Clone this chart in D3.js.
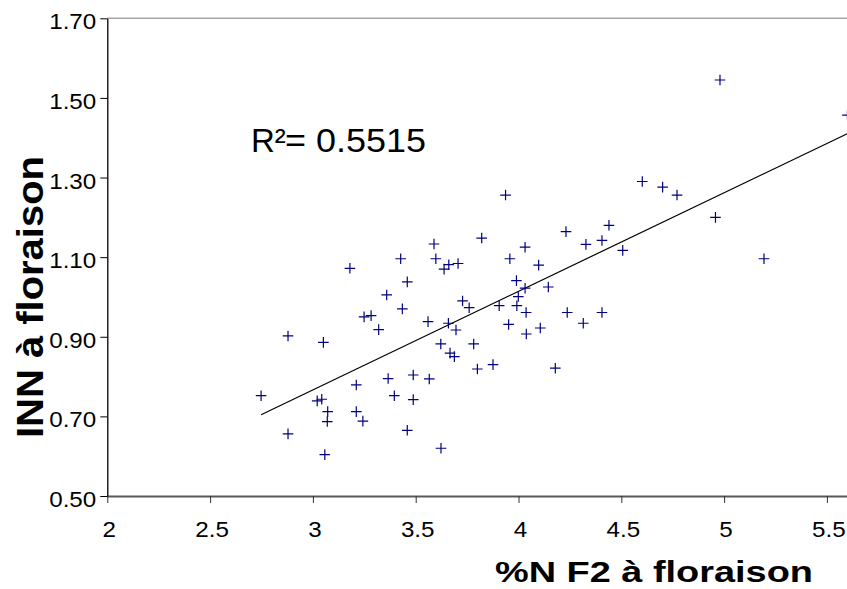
<!DOCTYPE html>
<html>
<head>
<meta charset="utf-8">
<script src="https://cdn.jsdelivr.net/npm/d3@7"></script>
<style>
  body { margin: 0; background: #fff; }
  svg { display: block; background: #fff; }
  text { font-family: Arial, "Liberation Sans", sans-serif; }
</style>
</head>
<body>
<svg id="chart" width="847" height="589"></svg>
<script>
// %N F2 at flowering (x) and INN at flowering (y), one entry per plot
const nF2 = [
  2.748, 2.879, 2.879, 3.021, 3.043, 3.051, 3.072, 3.070, 3.058, 3.180,
  3.211, 3.211, 3.243, 3.249, 3.283, 3.320, 3.359, 3.366, 3.396, 3.427,
  3.435, 3.459, 3.459, 3.488, 3.488, 3.560, 3.566, 3.589, 3.598, 3.622,
  3.623, 3.638, 3.661, 3.706, 3.659, 3.667, 3.688, 3.696, 3.728, 3.760,
  3.782, 3.800, 3.821, 3.876, 3.906, 3.937, 3.952, 3.958, 3.990, 3.992,
  3.999, 4.032, 4.032, 4.037, 4.038, 4.098, 4.106, 4.145, 4.179, 4.231,
  4.237, 4.315, 4.328, 4.406, 4.406, 4.440, 4.507, 4.602, 4.701, 4.771,
  4.958, 4.980, 5.194, 5.600
];
const inn = [
  0.752, 0.902, 0.656, 0.739, 0.743, 0.886, 0.712, 0.687, 0.604, 1.072,
  0.779, 0.712, 0.688, 0.950, 0.953, 0.918, 1.005, 0.795, 0.752, 1.096,
  0.970, 1.038, 0.665, 0.804, 0.742, 0.938, 0.794, 1.133, 1.096, 0.882,
  0.620, 1.070, 1.081, 1.084, 0.934, 0.859, 0.850, 0.917, 0.990, 0.973,
  0.882, 0.819, 1.148, 0.830, 0.978, 1.256, 0.931, 1.096, 1.041, 0.978,
  1.001, 1.125, 1.022, 0.961, 0.907, 1.080, 0.922, 1.025, 0.821, 1.164,
  0.961, 0.934, 1.132, 1.142, 0.961, 1.180, 1.117, 1.290, 1.276, 1.256,
  1.200, 1.545, 1.096, 1.457
];

const xTicks = [2, 2.5, 3, 3.5, 4, 4.5, 5, 5.5];
const yTicks = [0.5, 0.7, 0.9, 1.1, 1.3, 1.5, 1.7];

// linear trend as drawn on the chart
const trendSlope = 0.2477;
const trendIntercept = 0.0233;
const r2Value = "0.5515";

const svg = d3.select('#chart');

const x = d3.scaleLinear().domain([2, 6]).range([107.3, 929.7]);
const y = d3.scaleLinear().domain([0.5, 1.7]).range([496, 18.3]);

// top frame line of the plot area
svg.append('line')
  .attr('x1', x(2)).attr('x2', 847)
  .attr('y1', y(1.7)).attr('y2', y(1.7))
  .attr('stroke', '#a6a6a6')
  .attr('stroke-width', 1.5);

// x axis
const xAxis = svg.append('g')
  .attr('transform', `translate(0,${y(0.5)})`)
  .call(d3.axisBottom(x)
    .tickValues(xTicks)
    .tickFormat(d => String(d))
    .tickSize(7)
    .tickSizeOuter(0)
    .tickPadding(18));
xAxis.select('.domain').attr('stroke', '#595959').attr('stroke-width', 2);
xAxis.selectAll('.tick line').attr('stroke', '#333');
xAxis.selectAll('.tick text')
  .attr('font-size', 22)
  .attr('fill', '#000')
  .attr('dx', 1.5);

// y axis
const yAxis = svg.append('g')
  .attr('transform', `translate(${x(2)},0)`)
  .call(d3.axisLeft(y)
    .tickValues(yTicks)
    .tickFormat(d3.format('.2f'))
    .tickSize(7)
    .tickSizeOuter(0)
    .tickPadding(4));
yAxis.select('.domain').attr('stroke', '#000').attr('stroke-width', 1.3);
yAxis.selectAll('.tick line').attr('stroke', '#000');
yAxis.selectAll('.tick text')
  .attr('font-size', 22)
  .attr('fill', '#000')
  .attr('dy', '0.48em');

// stretch tick labels a little, the original type is wider than Arial
svg.selectAll('.tick text').each(function () {
  const w = this.getComputedTextLength();
  d3.select(this).attr('textLength', w * 1.1).attr('lengthAdjust', 'spacingAndGlyphs');
});

// trend line over the data range
const xr = d3.extent(nF2);
svg.append('path')
  .datum(xr)
  .attr('fill', 'none')
  .attr('stroke', '#000')
  .attr('stroke-width', 1.2)
  .attr('d', d3.line()
    .x(d => x(d))
    .y(d => y(trendIntercept + trendSlope * d)));

// points as "+" markers
svg.append('g')
  .selectAll('path')
  .data(nF2.map((v, i) => [v, inn[i]]))
  .enter()
  .append('path')
    .attr('transform', d => `translate(${x(d[0])},${y(d[1])})`)
    .attr('d', 'M-5.3,0H5.3M0,-5.3V5.3')
    .attr('stroke', '#000080')
    .attr('stroke-width', 1.2)
    .attr('fill', 'none');

// R² label
svg.append('text')
  .attr('x', 251).attr('y', 152)
  .attr('font-size', 33)
  .text('R²');
svg.append('text')
  .attr('x', 285).attr('y', 152)
  .attr('font-size', 33)
  .attr('textLength', 141)
  .attr('lengthAdjust', 'spacingAndGlyphs')
  .text('= ' + r2Value);

// axis titles
svg.append('text')
  .attr('x', 495).attr('y', 582)
  .attr('font-size', 30)
  .attr('font-weight', 'bold')
  .attr('textLength', 318)
  .attr('lengthAdjust', 'spacingAndGlyphs')
  .text('%N F2 à floraison');

svg.append('text')
  .attr('transform', 'translate(43,438) rotate(-90)')
  .attr('font-size', 36)
  .attr('font-weight', 'bold')
  .attr('textLength', 282)
  .attr('lengthAdjust', 'spacingAndGlyphs')
  .text('INN à floraison');
</script>
</body>
</html>
